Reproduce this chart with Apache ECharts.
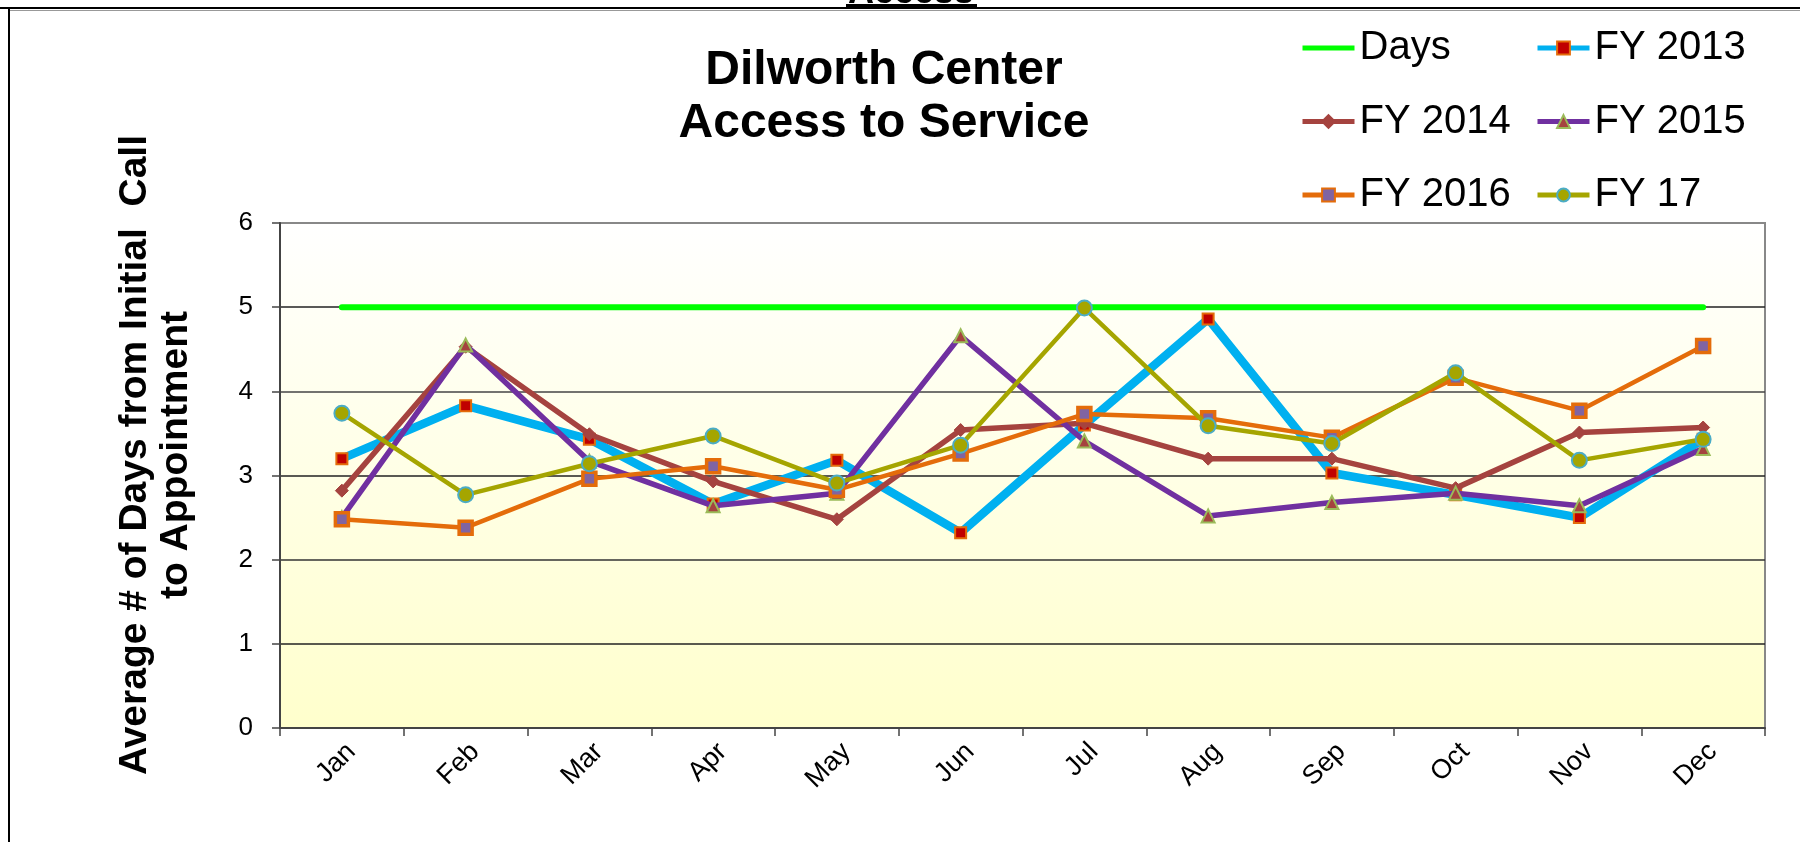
<!DOCTYPE html>
<html>
<head>
<meta charset="utf-8">
<script src="https://cdn.jsdelivr.net/npm/echarts@6/dist/echarts.min.js"></script>
<style>
html,body{margin:0;padding:0;background:#fff;}
#chart{width:1800px;height:842px;}
</style>
</head>
<body>
<div id="chart"></div>
<script>
const months = ['Jan','Feb','Mar','Apr','May','Jun','Jul','Aug','Sep','Oct','Nov','Dec'];
const yTicks = [0,1,2,3,4,5,6];
const days   = [5,5,5,5,5,5,5,5,5,5,5,5];
const fy2013 = [3.20,3.83,3.43,2.66,3.18,2.32,3.60,4.86,3.03,2.77,2.50,3.43];
const fy2014 = [2.82,4.53,3.49,2.93,2.48,3.54,3.62,3.20,3.20,2.85,3.51,3.57];
const fy2015 = [2.50,4.55,3.17,2.64,2.79,4.66,3.41,2.52,2.68,2.79,2.64,3.32];
const fy2016 = [2.48,2.38,2.96,3.11,2.83,3.26,3.73,3.68,3.45,4.16,3.77,4.54];
const fy17   = [3.74,2.77,3.14,3.47,2.91,3.36,4.99,3.59,3.38,4.22,3.18,3.43];

const FONT = "'Liberation Sans', Arial, sans-serif";
const chart = echarts.init(document.getElementById('chart'), null, {renderer:'canvas'});

function legendCfg(items, left){
  return {
    data: items, orient:'vertical', left: left, top: 23,
    itemWidth: 52, itemHeight: 16, itemGap: 33.5,
    lineStyle:{width:5},
    textStyle:{fontSize:40, lineHeight:40, color:'#000', fontFamily:FONT},
    selectedMode:false
  };
}

const option = {
  animation:false,
  backgroundColor:'#ffffff',
  grid:{
    left:280, right:35, top:223, bottom:114, show:true,
    backgroundColor: new echarts.graphic.LinearGradient(0,0,0,1,[
      {offset:0,color:'#FFFFFF'},{offset:1,color:'#FFFFCC'}]),
    borderColor:'#888', borderWidth:2
  },
  legend:[
    legendCfg([{name:'Days', icon:'path://M0,0 L52,0 L52,5 L0,5 Z'},'FY 2014','FY 2016'],1295),
    legendCfg(['FY 2013','FY 2015','FY 17'],1530)
  ],
  xAxis:{
    type:'category', data:months, boundaryGap:true,
    axisLine:{show:true, lineStyle:{color:'#444', width:2}},
    axisTick:{show:true, length:8, lineStyle:{color:'#444', width:1.5}},
    axisLabel:{rotate:45, fontSize:27, color:'#000', fontFamily:FONT, margin:10, interval:0, verticalAlign:'top'},
    splitLine:{show:false}
  },
  yAxis:{
    type:'value', min:yTicks[0], max:yTicks[yTicks.length-1], interval:1,
    axisLine:{show:true, lineStyle:{color:'#444', width:2}},
    axisTick:{show:true, length:8, lineStyle:{color:'#444', width:1.5}},
    axisLabel:{fontSize:26, color:'#000', fontFamily:FONT, margin:27},
    splitLine:{show:true, lineStyle:{color:['#333','#222','#333','#222','#444','#222','#888'], width:1.6}}
  },
  graphic:[
    {type:'rect', shape:{x:0,y:7,width:1800,height:2}, style:{fill:'#000'}, silent:true},
    {type:'rect', shape:{x:9,y:10,width:1791,height:1}, style:{fill:'#999'}, silent:true},
    {type:'rect', shape:{x:8,y:8,width:2,height:834}, style:{fill:'#000'}, silent:true},
    {type:'text', x:911, y:11, style:{text:'Access', font:"bold 36px "+FONT, fill:'#000', textAlign:'center', textVerticalAlign:'bottom'}, silent:true},
    {type:'rect', shape:{x:846,y:4,width:131,height:4}, style:{fill:'#000'}, silent:true},
    {type:'text', x:884, y:71, style:{text:'Dilworth Center', font:"bold 48px "+FONT, fill:'#000', textAlign:'center', textVerticalAlign:'middle'}, silent:true},
    {type:'text', x:884, y:124, style:{text:'Access to Service', font:"bold 48px "+FONT, fill:'#000', textAlign:'center', textVerticalAlign:'middle'}, silent:true},
    {type:'text', x:156, y:455, rotation:Math.PI/2,
     style:{text:'Average # of Days from Initial  Call\nto Appointment', font:"bold 39px "+FONT, lineHeight:41, fill:'#000', textAlign:'center', textVerticalAlign:'middle'}, silent:true}
  ],
  series:[
    {name:'Days', type:'line', data:days, showSymbol:false, symbol:'none',
     lineStyle:{color:'#00FF00', width:6, cap:'round'}, itemStyle:{color:'#00FF00'}, z:2},
    {name:'FY 2013', type:'line', data:fy2013, symbol:'rect', symbolSize:11,
     lineStyle:{color:'#00B0F0', width:8.5}, itemStyle:{color:'#C00000', borderColor:'#E46C0A', borderWidth:2}, z:3},
    {name:'FY 2014', type:'line', data:fy2014, symbol:'diamond', symbolSize:13,
     lineStyle:{color:'#A5433F', width:5.5}, itemStyle:{color:'#A5433F', borderColor:'#A5433F', borderWidth:1}, z:4},
    {name:'FY 2015', type:'line', data:fy2015, symbol:'triangle', symbolSize:13,
     lineStyle:{color:'#7030A0', width:5.5}, itemStyle:{color:'#A5433F', borderColor:'#9BBB59', borderWidth:2}, z:5},
    {name:'FY 2016', type:'line', data:fy2016, symbol:'rect', symbolSize:13,
     lineStyle:{color:'#E46C0A', width:4.5}, itemStyle:{color:'#8064A2', borderColor:'#E46C0A', borderWidth:3.5}, z:6},
    {name:'FY 17', type:'line', data:fy17, symbol:'circle', symbolSize:15,
     lineStyle:{color:'#A5A500', width:4.5}, itemStyle:{color:'#A5A500', borderColor:'#4BACC6', borderWidth:2}, z:7}
  ]
};
chart.setOption(option);
</script>
</body>
</html>
